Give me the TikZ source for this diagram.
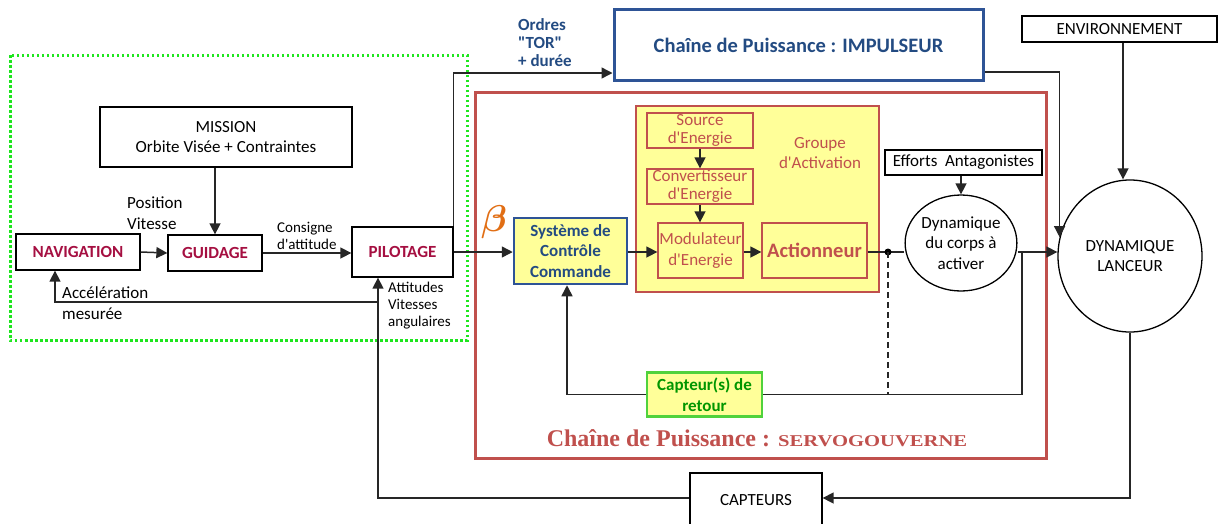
\documentclass[tikz,border=0pt]{standalone}
\usepackage{fontspec}
\usepackage{graphicx}
\setmainfont{Carlito}[Ligatures=TeXOff]
\newfontfamily\timesf{Liberation Serif}
\usetikzlibrary{arrows.meta,shapes.geometric,calc}
\definecolor{crim}{RGB}{165,15,65}
\definecolor{blueT}{RGB}{35,75,130}
\definecolor{blueB}{RGB}{46,84,150}
\definecolor{redB}{RGB}{192,80,77}
\definecolor{yelF}{RGB}{255,255,153}
\definecolor{greenB}{RGB}{80,210,60}
\definecolor{greenT}{RGB}{0,150,0}
\definecolor{dotG}{RGB}{30,230,30}
\definecolor{betaC}{RGB}{225,110,20}
\tikzset{
  x=1pt,y=-1pt,
  fnt/.style={font=\fontsize{17}{20.5}\selectfont},
  sfnt/.style={font=\fontsize{15}{17}\selectfont},
  bx/.style={draw=black,line width=1.3pt,rectangle,inner sep=0pt,align=center,fnt},
  cbox/.style={bx,text=crim,font=\fontsize{17}{20.5}\selectfont\bfseries},
  rbox/.style={draw=redB,line width=1.3pt,rectangle,inner sep=0pt,align=center,text=redB,font=\fontsize{17}{18}\selectfont},
  lnk/.style={line width=1.5pt,draw=black!85},
  arr/.style={lnk,-{Triangle[length=11pt,width=11pt]}},
  lbl/.style={inner sep=0pt,align=left,anchor=west,fnt},
}
\begin{document}
\begin{tikzpicture}
\useasboundingbox (0,0) rectangle (1219,523);
% containers
\draw[dotG,line width=3pt,dash pattern=on 2.5pt off 2.5pt] (10,55) rectangle (467,340);
\draw[redB,line width=3pt] (475,92) rectangle (1046,458);
\draw[redB,line width=2.5pt,fill=yelF] (636,106) rectangle (879,292);
% nodes
\node[bx,minimum width=252,minimum height=60] (mission) at (226,137) {MISSION\\Orbite Visée + Contraintes};
\node[cbox,minimum width=124,minimum height=36] (nav) at (78,252) {NAVIGATION};
\node[cbox,minimum width=94,minimum height=36] (guid) at (215,253) {GUIDAGE};
\node[cbox,minimum width=101,minimum height=50] (pilo) at (402.5,252) {PILOTAGE};
\node[draw=blueB,line width=3pt,rectangle,inner sep=0pt,minimum width=369,minimum height=71,text=blueT,font=\fontsize{20.5}{24}\selectfont\bfseries] (impuls) at (798.5,45) {Chaîne de Puissance : IMPULSEUR};
\node[rbox,minimum width=106,minimum height=35] (source) at (700,130.5) {Source\\d'Energie};
\node[rbox,minimum width=106,minimum height=35] (conv) at (700,186.5) {Convertisseur\\d'Energie};
\node[rbox,minimum width=85,minimum height=55,font=\fontsize{17}{20.5}\selectfont] (modul) at (700.5,250.5) {Modulateur\\d'Energie};
\node[rbox,minimum width=105,minimum height=55,font=\fontsize{20.5}{24}\selectfont\bfseries] (action) at (814.5,250.5) {Actionneur};
\node[text=redB,align=center,fnt,inner sep=0pt] (groupe) at (820,153) {Groupe\\d'Activation};
\node[draw=blueB,line width=2.5pt,fill=yelF,rectangle,inner sep=0pt,minimum width=113,minimum height=66,align=center,text=blueT,font=\fontsize{17}{20.5}\selectfont\bfseries] (scc) at (570.5,251) {Système de\\Contrôle\\Commande};
\node[text=betaC,inner sep=0pt,font=\fontsize{24}{24}\selectfont\boldmath] (beta) at (494,222) {\scalebox{1.5}{$\beta$}};
\node[draw=black,line width=1.3pt,ellipse,inner sep=0pt,minimum width=104,minimum height=96,align=center,fnt] (dyn) at (961,243) {Dynamique\\du corps à\\activer};
\node[bx,minimum width=157,minimum height=25] (efforts) at (963.5,162.5) {Efforts\ \ Antagonistes};
\node[bx,minimum width=195,minimum height=26] (env) at (1119.5,29) {ENVIRONNEMENT};
\node[draw=black,line width=1.3pt,ellipse,inner sep=0pt,minimum width=144,minimum height=152,align=center,fnt] (lanceur) at (1130,256) {DYNAMIQUE\\LANCEUR};
\node[draw=greenB,line width=2.5pt,fill=yelF,rectangle,inner sep=0pt,minimum width=115,minimum height=44,align=center,text=greenT,font=\fontsize{17}{20.5}\selectfont\bfseries] (capret) at (704.5,394.5) {Capteur(s) de\\retour};
\node[bx,minimum width=132,minimum height=54] (capteurs) at (756,500) {CAPTEURS};
\node[inner sep=0pt,text=redB] (servo) at (757,438) {\timesf\bfseries\fontsize{24}{26}\selectfont Chaîne de Puissance : \scalebox{1.25}[1]{\fontsize{16.5}{20}\selectfont SERVOGOUVERNE}};
% labels
\node[lbl] (posv) at (127,213) {Position\\Vitesse};
\node[lbl,sfnt] (cons) at (277,235.5) {Consigne\\d'attitude};
\node[lbl] (acc) at (62,303) {Accélération\\mesurée};
\node[lbl,sfnt] (att) at (388,306) {Attitudes\\Vitesses\\angulaires};
\node[lbl,text=blueT,font=\fontsize{17}{18}\selectfont\bfseries] (ordres) at (518,43) {Ordres\\"TOR"\\+ durée};
% junctions
\coordinate (j1) at (888,252);
\coordinate (j2) at (1022,252);
\coordinate (j3) at (378,302);
% connectors
\draw[arr] (guid.north |- mission.south) -- (guid.north);
\draw[arr] (nav.east) -- (guid.west);
\draw[arr] (guid.east) -- (pilo.west |- guid.east);
\draw[arr] (pilo.east) -- (scc.west |- pilo.east);
\draw[arr] (pilo.north east) |- ([yshift=9pt]impuls.south west);
\draw[arr] ([yshift=10pt]impuls.south east) -| (lanceur.165);
\draw[arr] ([xshift=3.5pt]env.south) -- ([xshift=3.5pt]env.south |- lanceur.north);
\draw[arr] (efforts.south -| dyn.north) -- (dyn.north);
\draw[arr] (scc.east |- pilo.east) -- (modul.west |- pilo.east);
\draw[arr] (source.south) -- (conv.north);
\draw[arr] (conv.south) -- (conv.south |- modul.north);
\draw[arr] (modul.east |- j1) -- (action.west |- j1);
\draw[lnk] (action.east |- j1) -- (dyn.west |- j1);
\fill (j1) circle (3.5pt);
\draw[lnk,dashed,dash pattern=on 6pt off 4pt] (j1) -- (j1 |- capret.east);
\draw[arr] (dyn.east |- j1) -- (lanceur.west |- j1);
\draw[lnk] (j2) |- (capret.east);
\draw[arr] (capret.west) -| ([xshift=-3.5pt]scc.south);
\draw[arr] (lanceur.south) |- (capteurs.east |- 0,498);
\draw[arr] (capteurs.west |- 0,498) -| ([xshift=-24.5pt]pilo.south);
\draw[arr] (j3) -| ([xshift=-23pt]nav.south);
\end{tikzpicture}
\end{document}
